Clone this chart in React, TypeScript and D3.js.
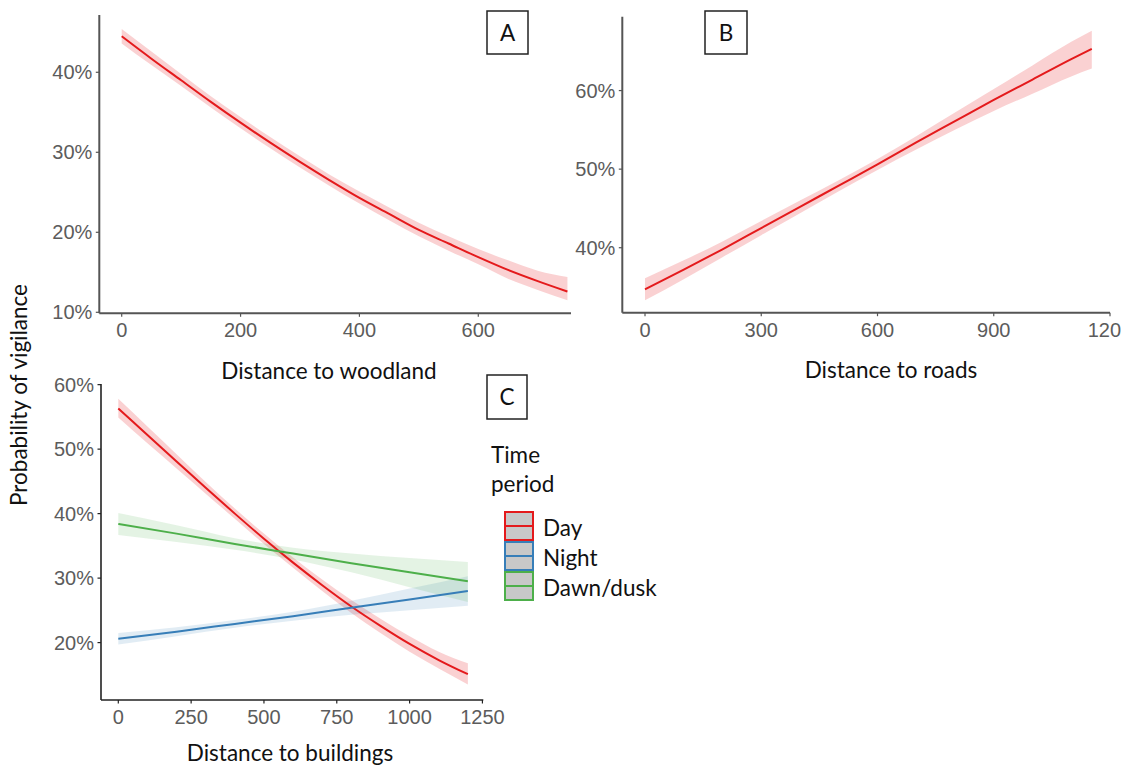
import React from "react";
import * as d3 from "d3";

// ---------- Data (percent values) ----------
// Panel A: distance to woodland
const woodX = [0, 50, 100, 150, 200, 250, 300, 350, 400, 450, 500, 550, 600, 650, 700, 750];
const woodFit = [44.5, 41.7, 39.0, 36.3, 33.7, 31.2, 28.8, 26.5, 24.3, 22.3, 20.3, 18.6, 16.9, 15.3, 13.9, 12.6];
const woodLo = [43.6, 40.9, 38.3, 35.6, 33.0, 30.5, 28.1, 25.8, 23.6, 21.5, 19.5, 17.7, 16.0, 14.2, 12.8, 11.5];
const woodHi = [45.4, 42.6, 39.8, 37.0, 34.4, 31.9, 29.5, 27.2, 25.1, 23.1, 21.2, 19.5, 17.9, 16.5, 15.2, 14.4];

// Panel B: distance to roads
const roadX = [0, 100, 200, 300, 400, 500, 600, 700, 800, 900, 1000, 1100, 1153];
const roadFit = [34.7, 37.2, 39.8, 42.5, 45.2, 47.9, 50.6, 53.4, 56.1, 58.8, 61.4, 64.0, 65.3];
const roadLo = [33.3, 36.0, 38.8, 41.6, 44.4, 47.2, 49.9, 52.5, 55.0, 57.4, 59.6, 61.8, 62.8];
const roadHi = [36.1, 38.4, 40.8, 43.4, 46.0, 48.6, 51.3, 54.2, 57.2, 60.2, 63.2, 66.2, 67.6];

// Panel C: distance to buildings, by time period
const dayX = [0, 100, 200, 300, 400, 500, 600, 700, 800, 900, 1000, 1100, 1200];
const dayFit = [56.3, 52.2, 48.1, 44.0, 40.0, 36.1, 32.4, 28.9, 25.6, 22.6, 19.8, 17.3, 15.1];
const dayLo = [54.9, 50.9, 47.0, 43.1, 39.2, 35.3, 31.6, 28.0, 24.6, 21.5, 18.6, 16.0, 13.5];
const dayHi = [57.8, 53.5, 49.2, 44.9, 40.8, 36.9, 33.2, 29.8, 26.6, 23.7, 21.0, 18.6, 16.8];

const periodX = [0, 200, 400, 600, 800, 1000, 1200];
const nightFit = [20.6, 21.7, 22.9, 24.1, 25.4, 26.7, 28.0];
const nightLo = [19.7, 21.0, 22.3, 23.4, 24.3, 25.0, 25.7];
const nightHi = [21.5, 22.4, 23.5, 24.8, 26.5, 28.4, 30.3];
const duskFit = [38.4, 36.9, 35.3, 33.8, 32.3, 30.9, 29.5];
const duskLo = [36.7, 35.6, 34.4, 32.9, 30.9, 28.6, 26.3];
const duskHi = [40.1, 38.2, 36.2, 34.7, 33.8, 33.1, 32.5];

const woodTicksX = [0, 200, 400, 600];
const woodTicksY = [10, 20, 30, 40];
const roadTicksX = [0, 300, 600, 900, 1200];
const roadTickLabels = ["0", "300", "600", "900", "120"]; // last label is cut in the source image
const roadTicksY = [40, 50, 60];
const bldTicksX = [0, 250, 500, 750, 1000, 1250];
const bldTicksY = [20, 30, 40, 50, 60];

const periods = ["Day", "Night", "Dawn/dusk"];
const periodColors = ["#E41A1C", "#377EB8", "#4DAF4A"];

const FONT_TXT = "Lato, 'Open Sans', sans-serif";
const FONT_TICK = "'Liberation Sans', Arial, sans-serif";
const TXT_SIZE = 22.5;

type Series = { x: number[]; fit: number[]; lo: number[]; hi: number[]; color: string; alpha: number };

function Panel(props: {
  xDomain: [number, number];
  xRange: [number, number];
  yDomain: [number, number];
  yRange: [number, number];
  xTicks: number[];
  xLabels?: string[];
  yTicks: number[];
  axisColor: string;
  axisWidth: number;
  series: Series[];
}) {
  const { xDomain, xRange, yDomain, yRange, xTicks, yTicks, axisColor, axisWidth, series } = props;
  const xs = d3.scaleLinear().domain(xDomain).range(xRange);
  const ys = d3.scaleLinear().domain(yDomain).range(yRange);
  const x0 = xRange[0];
  const yb = yRange[0];
  const yt = yRange[1];
  const xr = xRange[1];
  const area = d3
    .area<{ x: number; lo: number; hi: number }>()
    .x((d) => xs(d.x))
    .y0((d) => ys(d.lo))
    .y1((d) => ys(d.hi))
    .curve(d3.curveMonotoneX);
  const line = d3
    .line<{ x: number; y: number }>()
    .x((d) => xs(d.x))
    .y((d) => ys(d.y))
    .curve(d3.curveMonotoneX);
  return (
    <g>
      {series.map((s, i) => (
        <path
          key={"b" + i}
          d={area(s.x.map((x, j) => ({ x, lo: s.lo[j], hi: s.hi[j] }))) || ""}
          fill={s.color}
          fillOpacity={s.alpha}
          stroke="none"
        />
      ))}
      {series.map((s, i) => (
        <path
          key={"l" + i}
          d={line(s.x.map((x, j) => ({ x, y: s.fit[j] }))) || ""}
          fill="none"
          stroke={s.color}
          strokeWidth={2}
        />
      ))}
      <line x1={x0} x2={x0} y1={yt} y2={yb} stroke={axisColor} strokeWidth={axisWidth} />
      <line x1={x0} x2={xr} y1={yb} y2={yb} stroke={axisColor} strokeWidth={axisWidth} />
      {yTicks.map((t) => (
        <g key={"yt" + t}>
          <line x1={x0 - 3.5} x2={x0} y1={ys(t)} y2={ys(t)} stroke={axisColor} strokeWidth={1.2} />
          <text
            x={x0 - 7}
            y={ys(t)}
            dy="0.36em"
            textAnchor="end"
            fontFamily={FONT_TICK}
            fontSize={20}
            fill="#5c5c5c"
          >
            {t + "%"}
          </text>
        </g>
      ))}
      {xTicks.map((t, i) => {
        const full = String(t);
        const lab = props.xLabels ? props.xLabels[i] : full;
        const truncated = lab.length < full.length;
        return (
          <g key={"xt" + t}>
            <line x1={xs(t)} x2={xs(t)} y1={yb} y2={yb + 3.5} stroke={axisColor} strokeWidth={1.2} />
            <text
              x={truncated ? xs(t) - full.length * 5.56 : xs(t)}
              y={yb + 24}
              textAnchor={truncated ? "start" : "middle"}
              fontFamily={FONT_TICK}
              fontSize={20}
              fill="#5c5c5c"
            >
              {lab}
            </text>
          </g>
        );
      })}
    </g>
  );
}

function LetterBox(props: { x: number; y: number; w: number; h: number; label: string }) {
  return (
    <g>
      <rect x={props.x} y={props.y} width={props.w} height={props.h} fill="#fff" stroke="#222" strokeWidth={1.5} />
      <text
        x={props.x + props.w / 2}
        y={props.y + props.h / 2}
        dy="0.36em"
        textAnchor="middle"
        fontFamily={FONT_TXT}
        fontSize={TXT_SIZE}
        fill="#111"
      >
        {props.label}
      </text>
    </g>
  );
}

export default function App() {
  const seriesA: Series[] = [{ x: woodX, fit: woodFit, lo: woodLo, hi: woodHi, color: periodColors[0], alpha: 0.2 }];
  const seriesB: Series[] = [{ x: roadX, fit: roadFit, lo: roadLo, hi: roadHi, color: periodColors[0], alpha: 0.2 }];
  const seriesC: Series[] = [
    { x: dayX, fit: dayFit, lo: dayLo, hi: dayHi, color: periodColors[0], alpha: 0.2 },
    { x: periodX, fit: nightFit, lo: nightLo, hi: nightHi, color: periodColors[1], alpha: 0.15 },
    { x: periodX, fit: duskFit, lo: duskLo, hi: duskHi, color: periodColors[2], alpha: 0.15 },
  ];
  const legendY = [512, 542, 572];
  return (
    <svg
      width={1125}
      height={767}
      style={{ position: "absolute", left: 0, top: 0, background: "#fff" }}
    >
      <rect x={0} y={0} width={1125} height={767} fill="#fff" />
      <Panel
        xDomain={[-37.7, 756]}
        xRange={[99.3, 571]}
        yDomain={[9.875, 47.16]}
        yRange={[313.3, 15]}
        xTicks={woodTicksX}
        yTicks={woodTicksY}
        axisColor="#555"
        axisWidth={2}
        series={seriesA}
      />
      <Panel
        xDomain={[-58.6, 1200]}
        xRange={[622.3, 1110]}
        yDomain={[31.73, 69.4]}
        yRange={[312.7, 16.7]}
        xTicks={roadTicksX}
        xLabels={roadTickLabels}
        yTicks={roadTicksY}
        axisColor="#555"
        axisWidth={2}
        series={seriesB}
      />
      <Panel
        xDomain={[-59.4, 1253]}
        xRange={[101, 483.3]}
        yDomain={[11.1, 60.1]}
        yRange={[700, 384]}
        xTicks={bldTicksX}
        yTicks={bldTicksY}
        axisColor="#222"
        axisWidth={1.6}
        series={seriesC}
      />

      <LetterBox x={487} y={11} w={41} h={43} label="A" />
      <LetterBox x={705} y={11} w={42} h={43} label="B" />
      <LetterBox x={487} y={375} w={40} h={44} label="C" />

      <text x={329} y={379} textAnchor="middle" fontFamily={FONT_TXT} fontSize={TXT_SIZE} fill="#111">
        Distance to woodland
      </text>
      <text x={891} y={378} textAnchor="middle" fontFamily={FONT_TXT} fontSize={TXT_SIZE} fill="#111">
        Distance to roads
      </text>
      <text x={290} y={761} textAnchor="middle" fontFamily={FONT_TXT} fontSize={TXT_SIZE} fill="#111">
        Distance to buildings
      </text>
      <text
        transform="translate(27,395) rotate(-90)"
        textAnchor="middle"
        fontFamily={FONT_TXT}
        fontSize={TXT_SIZE}
        fill="#111"
      >
        Probability of vigilance
      </text>

      <text x={491} y={463} fontFamily={FONT_TXT} fontSize={TXT_SIZE} fill="#111">
        Time
      </text>
      <text x={491} y={492} fontFamily={FONT_TXT} fontSize={TXT_SIZE} fill="#111">
        period
      </text>
      {periods.map((p, i) => (
        <g key={p}>
          <rect
            x={505}
            y={legendY[i]}
            width={28}
            height={28}
            fill="#c8c8c8"
            stroke={periodColors[i]}
            strokeWidth={2}
          />
          <line
            x1={505}
            x2={533}
            y1={legendY[i] + 14}
            y2={legendY[i] + 14}
            stroke={periodColors[i]}
            strokeWidth={2}
          />
          <text x={543} y={legendY[i] + 24} fontFamily={FONT_TXT} fontSize={TXT_SIZE} fill="#111">
            {p}
          </text>
        </g>
      ))}
    </svg>
  );
}
